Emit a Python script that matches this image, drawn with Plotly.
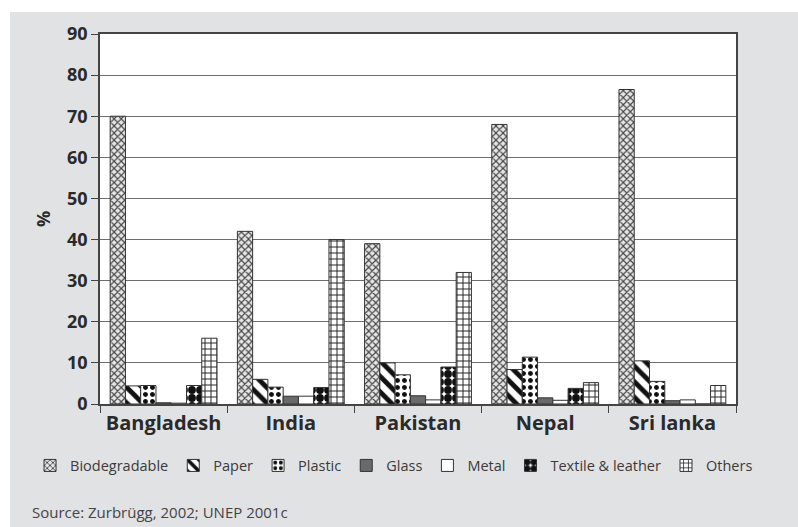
import plotly.graph_objects as go

countries = ["Bangladesh", "India", "Pakistan", "Nepal", "Sri lanka"]

biodegradable = [70, 42, 39, 68, 76.5]
paper = [4.4, 6, 10, 8.4, 10.5]
plastic = [4.5, 4.1, 7.1, 11.4, 5.5]
glass = [0.3, 1.9, 2, 1.5, 0.8]
metal = [0.2, 1.9, 1, 0.9, 1]
textile = [4.5, 4, 9, 3.8, 0]
others = [16, 40, 32, 5.2, 4.5]

series = [
    ("Biodegradable", biodegradable, dict(shape="x", size=5, solidity=0.4, fgcolor="#444444", bgcolor="#e6e6e6")),
    ("Paper", paper, dict(shape="\\", size=11, solidity=0.45, fgcolor="#111111", bgcolor="white")),
    ("Plastic", plastic, dict(shape=".", size=7, solidity=0.4, fgcolor="#111111", bgcolor="white")),
    ("Glass", glass, None),
    ("Metal", metal, None),
    ("Textile & leather", textile, dict(shape=".", size=8, solidity=0.75, fgcolor="#111111", bgcolor="white")),
    ("Others", others, dict(shape="+", size=6, solidity=0.3, fgcolor="#222222", bgcolor="white")),
]

fig = go.Figure()
for name, vals, pat in series:
    marker = dict(line=dict(color="#333333", width=1))
    if pat is not None:
        marker["color"] = pat["bgcolor"]
        marker["pattern"] = dict(fillmode="replace", **pat)
    elif name == "Glass":
        marker["color"] = "#6a6a6a"
    else:
        marker["color"] = "white"
    fig.add_trace(go.Bar(name=name, x=countries, y=vals, marker=marker))

grey_bg = "#e1e2e4"
text_dark = "#2a2a2a"

fig.update_layout(
    width=798,
    height=527,
    margin=dict(l=100, r=62, t=34, b=123),
    paper_bgcolor=grey_bg,
    plot_bgcolor="white",
    barmode="group",
    bargap=0.16,
    bargroupgap=0,
    showlegend=True,
    legend=dict(
        orientation="h",
        x=-0.11,
        xanchor="left",
        y=-0.123,
        yanchor="top",
        font=dict(family="Open Sans", size=14.5, color="#3a3a3a"),
        itemwidth=30,
        bgcolor="rgba(0,0,0,0)",
        traceorder="normal",
    ),
    xaxis=dict(
        automargin=False,
        showline=True,
        linecolor="#444444",
        linewidth=1.5,
        mirror=True,
        ticks="outside",
        tickson="boundaries",
        ticklen=7,
        tickcolor="#444444",
        tickfont=dict(family="Open Sans", size=20, color=text_dark, weight="bold"),
    ),
    yaxis=dict(
        automargin=False,
        range=[0, 90],
        dtick=10,
        showline=True,
        linecolor="#444444",
        linewidth=1.5,
        mirror=True,
        ticks="outside",
        ticklen=7,
        tickcolor="#444444",
        gridcolor="#6e6e6e",
        gridwidth=1,
        zeroline=False,
        tickfont=dict(family="Open Sans", size=18, color=text_dark, weight="bold"),
        title=dict(text="%", font=dict(family="Open Sans", size=18, color=text_dark, weight="bold"), standoff=12),
    ),
    shapes=[
        # white margin along the top and left edges of the grey panel
        dict(type="rect", xref="paper", yref="paper", x0=-0.2, x1=1.2, y0=1.0595, y1=1.2,
             fillcolor="white", line=dict(width=0), layer="below"),
        dict(type="rect", xref="paper", yref="paper", x0=-0.2, x1=-0.1415, y0=-0.4, y1=1.2,
             fillcolor="white", line=dict(width=0), layer="below"),
    ],
    annotations=[
        dict(text="Source: Zurbrügg, 2002; UNEP 2001c", xref="paper", yref="paper",
             x=-0.110, y=-0.292, xanchor="left", yanchor="middle", showarrow=False,
             font=dict(family="Open Sans", size=15, color="#444444")),
    ],
)

fig.write_html("out.html")
